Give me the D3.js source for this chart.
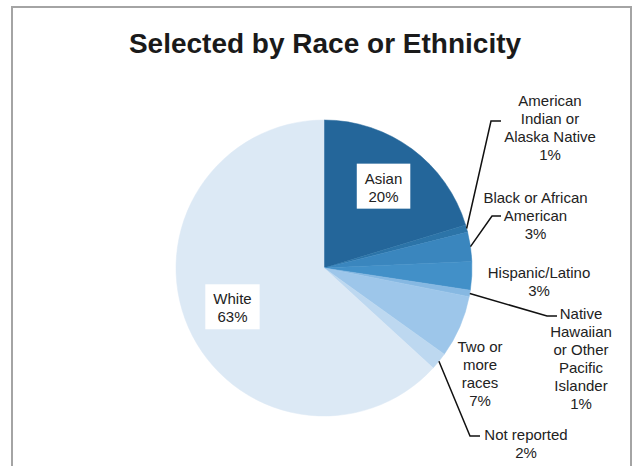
<!DOCTYPE html>
<html>
<head>
<meta charset="utf-8">
<script src="https://cdn.jsdelivr.net/npm/d3@7"></script>
<style>
  html, body { margin: 0; padding: 0; background: #fff; }
  svg { display: block; }
  text { font-family: "Liberation Sans", Arial, sans-serif; fill: #222; }
</style>
</head>
<body>
<svg id="chart" width="636" height="466"></svg>
<script>
// ---- data ----
const title = "Selected by Race or Ethnicity";
const categories = [
  "Asian",
  "American Indian or Alaska Native",
  "Black or African American",
  "Hispanic/Latino",
  "Native Hawaiian or Other Pacific Islander",
  "Two or more races",
  "Not reported",
  "White"
];
const values = [20.3, 0.8, 3.2, 3.1, 0.7, 6.8, 1.9, 63.2];
const labelLines = [
  ["Asian"],
  ["American", "Indian or", "Alaska Native"],
  ["Black or African", "American"],
  ["Hispanic/Latino"],
  ["Native", "Hawaiian", "or Other", "Pacific", "Islander"],
  ["Two or", "more", "races"],
  ["Not reported"],
  ["White"]
];

// ---- styles / layout ----
const colors = ["#24669a", "#2c74a8", "#3a86be", "#4290c8", "#86b8e2", "#9dc6ea", "#bdd8f0", "#dce9f5"];
const W = 636, H = 466;
const cx = 324, cy = 268, R = 148;
const fontSize = 15, lineH = 18;
// outside label layout: [x, firstBaseline, leader elbow x1, elbow x2, elbow y] (null leader = none)
const outside = {
  1: {x: 550, y: 106, leader: [491, 501, 121]},
  2: {x: 535.5, y: 203, leader: [492, 501, 216]},
  3: {x: 539, y: 278, leader: null},
  4: {x: 581, y: 319, leader: [547, 557, 316]},
  5: {x: 480, y: 352, leader: null},
  6: {x: 526, y: 440, leader: [470, 480, 436]}
};

const svg = d3.select("#chart");

// frame
svg.append("rect")
  .attr("x", 12).attr("y", 7).attr("width", 619).attr("height", 520)
  .attr("fill", "#fff").attr("stroke", "#a4a4a4").attr("stroke-width", 2);

// title
svg.append("text")
  .attr("x", 325).attr("y", 53)
  .attr("text-anchor", "middle")
  .style("font-size", "28px").style("font-weight", "bold")
  .style("fill", "#1a1a1a")
  .text(title);

const pie = d3.pie().sort(null).value(d => d)(values);
const arc = d3.arc().innerRadius(0).outerRadius(R);
const labelArc = d3.arc().innerRadius(100).outerRadius(100);
const edgeArc = d3.arc().innerRadius(R).outerRadius(R);

const g = svg.append("g").attr("transform", `translate(${cx},${cy})`);
g.selectAll("path.slice")
  .data(pie)
  .join("path")
  .attr("class", "slice")
  .attr("d", arc)
  .attr("fill", (d, i) => colors[i])
  .attr("stroke", (d, i) => colors[i])
  .attr("stroke-width", 0.5);

// inside labels (Asian, White) with white boxes
[0, 7].forEach(i => {
  const [lx, ly] = labelArc.centroid(pie[i]);
  const lines = labelLines[i].concat([Math.round(values[i]) + "%"]);
  const lg = g.append("g");
  const t = lg.append("text").attr("text-anchor", "middle").style("font-size", fontSize + "px");
  const y0 = ly - (lines.length - 1) * lineH / 2 + 5;
  lines.forEach((s, k) => t.append("tspan").attr("x", lx).attr("y", y0 + k * lineH).text(s));
  const bb = t.node().getBBox();
  lg.insert("rect", "text")
    .attr("x", bb.x - 8).attr("y", bb.y - 6)
    .attr("width", bb.width + 16).attr("height", bb.height + 10)
    .attr("fill", "#fff");
});

// outside labels with leaders
Object.keys(outside).forEach(key => {
  const i = +key;
  const o = outside[i];
  const lines = labelLines[i].concat([Math.round(values[i]) + "%"]);
  const t = svg.append("text").attr("text-anchor", "middle").style("font-size", fontSize + "px");
  lines.forEach((s, k) => t.append("tspan").attr("x", o.x).attr("y", o.y + k * lineH).text(s));
  if (o.leader) {
    const [ex, ey] = edgeArc.centroid(pie[i]);
    const [x1, x2, y] = o.leader;
    svg.append("polyline")
      .attr("points", `${cx + ex},${cy + ey} ${x1},${y} ${x2},${y}`)
      .attr("fill", "none").attr("stroke", "#111").attr("stroke-width", 1.5);
  }
});
</script>
</body>
</html>
